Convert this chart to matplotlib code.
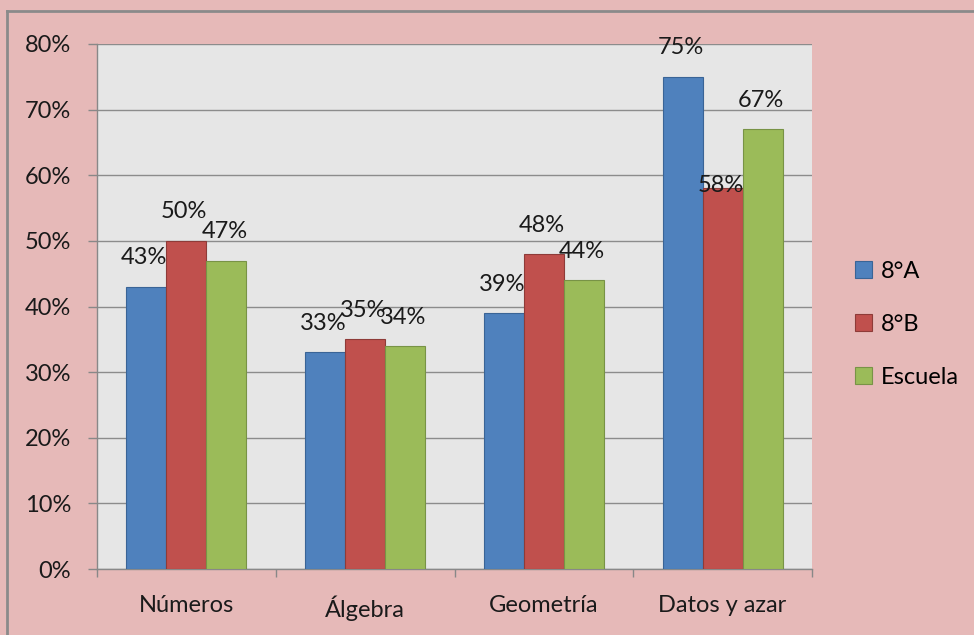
import numpy as np
import matplotlib.pyplot as plt
from matplotlib.lines import Line2D

categories = ['Números', 'Álgebra', 'Geometría', 'Datos y azar']
series_names = ['8°A', '8°B', 'Escuela']
val_8a = [43, 33, 39, 75]
val_8b = [50, 35, 48, 58]
val_escuela = [47, 34, 44, 67]
colors = ['#4F81BD', '#C0504D', '#9BBB59']
edge_colors = ['#3A6496', '#8E3B38', '#789346']
# vertical label offsets (in % units) above the bar tops; the 58% label sits lower
label_offsets = [[4.4, 4.4, 4.4, 4.4], [4.4, 4.4, 4.4, 0.5], [4.4, 4.4, 4.4, 4.4]]

plt.rcParams['font.family'] = ['Lato', 'DejaVu Sans']

fig = plt.figure(figsize=(9.74, 6.35), dpi=100)
fig.patch.set_facecolor('#E6B9B8')
ax = fig.add_axes([97 / 974, 1 - 569 / 635, 715 / 974, 525 / 635])
ax.set_facecolor('#E6E6E6')

x = np.arange(len(categories))
w = 0.224
for i, (name, vals) in enumerate(zip(series_names, [val_8a, val_8b, val_escuela])):
    pos = x + (i - 1) * w
    ax.bar(pos, vals, width=w, color=colors[i], edgecolor=edge_colors[i],
           linewidth=0.8, label=name, zorder=3)
    for p, v, off in zip(pos, vals, label_offsets[i]):
        ax.text(p - w * 0.05, v + off, f'{v}%', ha='center', va='center',
                fontsize=17, color='#1a1a1a', zorder=4)

ax.set_xlim(-0.5, len(categories) - 0.5)
ax.set_ylim(0, 80)
ax.set_yticks(range(0, 81, 10))
ax.set_yticklabels([f'{t}%' for t in range(0, 81, 10)], fontsize=17, color='#1a1a1a')
ax.set_xticks(x)
ax.set_xticklabels(categories, fontsize=17, color='#1a1a1a')
ax.set_xticks(np.arange(-0.5, len(categories)), minor=True)
ax.tick_params(axis='x', which='major', length=0, pad=19)
ax.tick_params(axis='x', which='minor', length=6, color='#888888', width=1)
ax.tick_params(axis='y', length=6.5, color='#888888', width=1, pad=12)
ax.yaxis.grid(True, color='#8C8C8C', linewidth=1, zorder=0)
ax.set_axisbelow(True)
for s in ['top', 'right']:
    ax.spines[s].set_visible(False)
for s in ['left', 'bottom']:
    ax.spines[s].set_color('#888888')
    ax.spines[s].set_linewidth(1)

leg = ax.legend(loc='center left', bbox_to_anchor=(1.03, 0.466), frameon=False,
                fontsize=17, handlelength=0.75, handleheight=0.75,
                handletextpad=0.35, labelspacing=1.35)

# outer chart border (top and left)
fig.add_artist(Line2D([7 / 974, 1], [1 - 11 / 635, 1 - 11 / 635], color='#8A8A8A', linewidth=2))
fig.add_artist(Line2D([7 / 974, 7 / 974], [0, 1 - 11 / 635], color='#8A8A8A', linewidth=2))

fig.savefig('out.png', dpi=100, facecolor=fig.get_facecolor())
